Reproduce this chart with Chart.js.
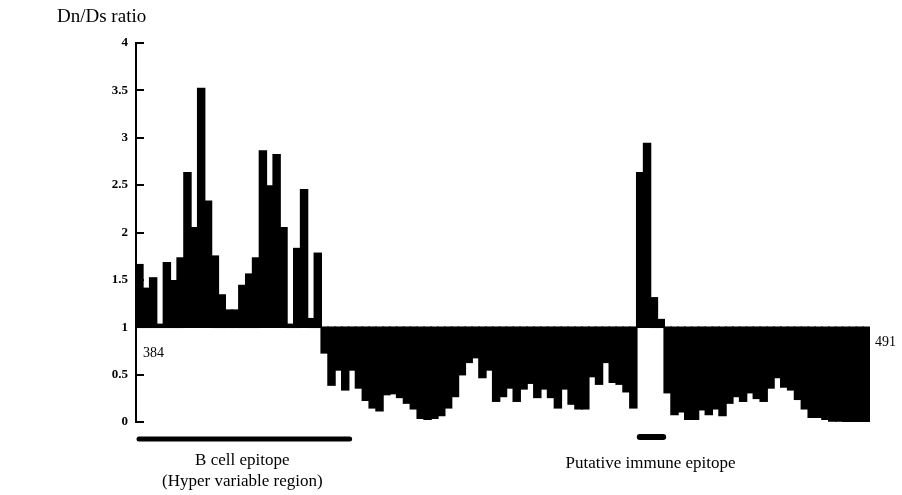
<!DOCTYPE html>
<html>
<head>
<meta charset="utf-8">
<script src="https://cdn.jsdelivr.net/npm/chart.js@4.4.1/dist/chart.umd.min.js"></script>
<style>
  html, body { margin: 0; padding: 0; background: #fff; }
  #wrap { width: 902px; height: 495px; position: relative; }
</style>
</head>
<body>
<div id="wrap"><canvas id="ratioChart"></canvas></div>
<script>
// first and last residue shown on the plot
const startPos = 384;
const endPos = 491;

// Dn/Ds ratio per position, bars hang from 1
const ratios = [
  1.66, 1.41, 1.52, 1.03, 1.68, 1.49, 1.73, 2.63, 2.05, 3.52, 2.33, 1.75, 1.34, 1.18,
  1.18, 1.44, 1.56, 1.73, 2.86, 2.49, 2.82, 2.05, 1.03, 1.83, 2.45, 1.09, 1.78,
  0.73, 0.39, 0.55, 0.34, 0.55, 0.36, 0.23, 0.15, 0.12,
  0.29, 0.30, 0.26, 0.20, 0.14,
  0.04, 0.03, 0.04, 0.07, 0.15,
  0.27, 0.50, 0.63, 0.68, 0.47, 0.55,
  0.22, 0.27, 0.36, 0.22, 0.35, 0.41, 0.26, 0.35, 0.26, 0.15, 0.35, 0.19,
  0.14, 0.14, 0.48, 0.40, 0.63, 0.42, 0.40, 0.32, 0.15,
  2.63, 2.94, 1.31, 1.08,
  0.31, 0.08, 0.11, 0.03, 0.03, 0.13, 0.08, 0.14, 0.07,
  0.20, 0.27, 0.22, 0.31, 0.25, 0.22,
  0.36, 0.47, 0.37, 0.34, 0.24, 0.14,
  0.05, 0.05, 0.03,
  0.01, 0.01, 0, 0, 0, 0
];
const positions = ratios.map((v, i) => String(startPos + i));

const yTicks = [0, 0.5, 1, 1.5, 2, 2.5, 3, 3.5, 4];
const baseline = 1;

// epitope regions marked under the axis
const bCellRange = [384, 414];
const immuneRange = [457, 460];

const serif = "'Liberation Serif', 'Times New Roman', serif";

// =====================
// extra drawing: inner ticks, labels, epitope bars
// =====================
const annotations = {
  id: 'annotations',
  afterDraw(chart) {
    const { ctx, chartArea, scales: { x, y } } = chart;
    const half = (x.getPixelForValue(1) - x.getPixelForValue(0)) / 2;
    const left = i => x.getPixelForValue(i - startPos) - half;
    const right = i => x.getPixelForValue(i - startPos) + half;

    ctx.save();
    ctx.strokeStyle = '#000';
    ctx.fillStyle = '#000';

    // ticks pointing into the plot
    ctx.lineWidth = 2;
    yTicks.forEach(t => {
      const py = Math.round(y.getPixelForValue(t));
      ctx.beginPath();
      ctx.moveTo(chartArea.left - 1, py);
      ctx.lineTo(chartArea.left + 8, py);
      ctx.stroke();
    });

    // y axis name
    ctx.font = '19px ' + serif;
    ctx.textAlign = 'left';
    ctx.textBaseline = 'middle';
    ctx.fillText('Dn/Ds ratio', 57, 17);

    // first / last residue
    ctx.font = '14px ' + serif;
    ctx.fillText(String(startPos), chartArea.left + 7, y.getPixelForValue(0.73));
    ctx.fillText(String(endPos), chartArea.right + 5, y.getPixelForValue(0.84));

    // epitope bars
    ctx.lineCap = 'round';
    ctx.lineWidth = 5;
    ctx.beginPath();
    ctx.moveTo(left(bCellRange[0]) + 3, chartArea.bottom + 17);
    ctx.lineTo(right(bCellRange[1]) + 1, chartArea.bottom + 17);
    ctx.stroke();
    ctx.lineWidth = 6;
    ctx.beginPath();
    ctx.moveTo(left(immuneRange[0]) + 3, chartArea.bottom + 15);
    ctx.lineTo(right(immuneRange[1]) - 1, chartArea.bottom + 15);
    ctx.stroke();

    ctx.font = '17px ' + serif;
    ctx.textAlign = 'center';
    const bMid = (left(bCellRange[0]) + right(bCellRange[1])) / 2;
    ctx.fillText('B cell epitope', bMid, chartArea.bottom + 39);
    ctx.fillText('(Hyper variable region)', bMid, chartArea.bottom + 60);
    const iMid = (left(immuneRange[0]) + right(immuneRange[1])) / 2;
    ctx.fillText('Putative immune epitope', iMid, chartArea.bottom + 42);
    ctx.restore();
  }
};

// =====================
// Bar chart
// =====================
const ctx = document.getElementById('ratioChart').getContext('2d');
new Chart(ctx, {
  type: 'bar',
  data: {
    labels: positions,
    datasets: [{
      data: ratios.map(v => [baseline, v]),
      backgroundColor: '#000',
      borderWidth: 0,
      inflateAmount: 0.8,
      barPercentage: 1,
      categoryPercentage: 1
    }]
  },
  options: {
    responsive: true,
    maintainAspectRatio: false,
    animation: false,
    layout: { padding: { left: 0, right: 32, top: 43, bottom: 73 } },
    plugins: {
      legend: { display: false },
      tooltip: { enabled: false }
    },
    scales: {
      x: { display: false },
      y: {
        min: 0,
        max: 4,
        afterBuildTicks: s => { s.ticks = yTicks.map(v => ({ value: v })); },
        afterFit: s => { s.width = 136; },
        border: { display: true, color: '#000', width: 2 },
        grid: { display: false, drawTicks: false },
        ticks: {
          color: '#000',
          padding: 8,
          font: { family: serif, size: 13, weight: 'bold' },
          callback: v => String(v)
        }
      }
    }
  },
  plugins: [annotations]
});
</script>
</body>
</html>
